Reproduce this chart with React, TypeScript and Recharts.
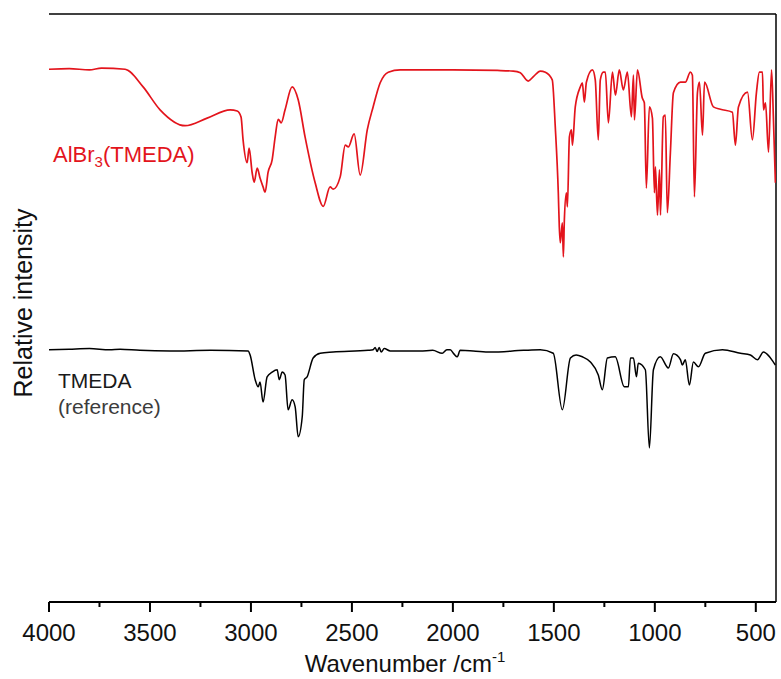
import React from "react";
import { LineChart, Line, XAxis, YAxis, Label, ReferenceLine } from "recharts";

// AlBr3(TMEDA) spectrum (wavenumber / cm-1, relative intensity)
const alWavenumbers = [
  4000, 3900, 3800, 3740, 3623, 3534, 3450, 3326, 3217, 3103, 3068, 3049, 3039, 3019, 3009,
  2994, 2984, 2969, 2955, 2940, 2930, 2915, 2895, 2880, 2865, 2850, 2831, 2796, 2766, 2732,
  2682, 2642, 2608, 2593, 2558, 2533, 2518, 2489, 2459, 2424, 2395, 2360, 2320, 2261, 2000,
  1780, 1701, 1666, 1627, 1600, 1567, 1542, 1508, 1493, 1478, 1473, 1468, 1458, 1453, 1448,
  1438, 1433, 1423, 1413, 1408, 1394, 1369, 1359, 1349, 1339, 1309, 1295, 1280, 1270, 1255,
  1245, 1230, 1210, 1195, 1176, 1156, 1136, 1116, 1106, 1101, 1086, 1062, 1052, 1042, 1027,
  1012, 1002, 997, 987, 977, 972, 958, 948, 938, 923, 908, 873, 849, 824, 814,
  804, 789, 779, 764, 754, 710, 675, 616, 601, 586, 541, 517, 497, 482, 467,
  462, 452, 437, 422, 413, 403,
];
const alIntensity = [
  90.6, 90.7, 90.5, 90.8, 90.6, 87.6, 83.7, 81.0, 82.3, 83.7, 83.5, 82.5, 78.6, 74.7, 77.2,
  73.0, 71.4, 73.8, 72.1, 70.6, 69.7, 73.1, 75.2, 79.1, 82.1, 81.5, 83.7, 87.6, 85.4, 79.1,
  71.3, 67.3, 70.6, 70.2, 72.3, 77.7, 77.4, 79.6, 72.6, 80.3, 84.2, 88.3, 90.1, 90.5, 90.5,
  90.4, 90.3, 90.0, 88.6, 89.4, 90.3, 90.1, 88.8, 80.8, 69.6, 63.8, 61.1, 64.5, 58.7, 65.0,
  69.6, 67.2, 79.1, 80.3, 77.7, 84.2, 87.6, 88.3, 85.0, 88.4, 90.5, 88.8, 78.6, 88.8, 90.1,
  90.1, 81.5, 90.1, 86.2, 90.5, 87.1, 90.1, 82.5, 89.6, 82.0, 90.5, 85.7, 84.9, 70.4, 84.2,
  82.3, 69.6, 74.0, 65.8, 73.5, 65.8, 82.5, 82.8, 66.2, 76.4, 86.6, 88.4, 88.4, 90.1, 89.6,
  68.9, 86.6, 88.4, 79.4, 88.4, 84.2, 83.8, 83.3, 77.7, 84.2, 86.7, 78.6, 86.6, 90.1, 90.1,
  83.7, 84.9, 76.5, 90.5, 82.5, 71.3,
];

// TMEDA reference spectrum
const tmedaWavenumbers = [
  4000, 3900, 3800, 3700, 3648, 3550, 3400, 3200, 3014, 3004, 2979, 2964, 2955, 2940, 2920,
  2895, 2870, 2860, 2845, 2831, 2816, 2796, 2781, 2766, 2746, 2736, 2722, 2692, 2657, 2593,
  2420, 2395, 2385, 2375, 2365, 2355, 2340, 2310, 2162, 2100, 2053, 2030, 2013, 1995, 1978,
  1964, 1900, 1815, 1650, 1567, 1503, 1458, 1418, 1390, 1359, 1319, 1280, 1260, 1235, 1196,
  1151, 1131, 1121, 1106, 1091, 1082, 1047, 1027, 1007, 973, 933, 908, 873, 864, 849,
  829, 809, 784, 750, 665, 576, 527, 492, 462, 437, 413, 403,
];
const tmedaIntensity = [
  42.9, 43.0, 43.1, 42.9, 43.0, 42.8, 42.7, 42.8, 42.7, 42.0, 37.8, 36.6, 37.4, 34.0, 38.3,
  39.1, 39.5, 37.8, 39.1, 38.6, 32.7, 34.4, 33.2, 28.1, 31.5, 37.8, 38.3, 41.5, 42.3, 42.5,
  42.8, 42.9, 43.3, 42.6, 43.3, 42.5, 43.1, 42.7, 42.7, 42.8, 42.3, 42.9, 42.9, 42.2, 41.7,
  42.8, 42.7, 42.5, 42.8, 42.9, 42.3, 32.7, 41.5, 42.0, 41.7, 40.8, 38.6, 36.1, 41.5, 41.7,
  36.6, 36.6, 41.5, 41.5, 38.3, 40.6, 39.5, 26.2, 39.5, 41.7, 39.8, 42.2, 41.2, 40.3, 41.2,
  36.9, 40.8, 40.0, 42.3, 42.9, 42.3, 42.0, 41.2, 42.5, 41.9, 40.8, 40.3,
];

const xTicks = [4000, 3750, 3500, 3250, 3000, 2750, 2500, 2250, 2000, 1750, 1500, 1250, 1000, 750, 500];

const alData = alWavenumbers.map((wn, i) => ({ wn, value: alIntensity[i] }));
const tmedaData = tmedaWavenumbers.map((wn, i) => ({ wn, value: tmedaIntensity[i] }));

const FONT = "'Liberation Sans', Arial, sans-serif";
const RED = "#e3141c";

const XTick = (props: any) => {
  const { x, y, payload } = props;
  const major = payload.value % 500 === 0;
  return (
    <g>
      <line x1={x} x2={x} y1={y} y2={y + (major ? 10 : 5)} stroke="#000" strokeWidth={2} />
      {major && (
        <text x={x} y={y + 39} textAnchor="middle" fontSize={24} fontFamily={FONT} fill="#111">
          {payload.value}
        </text>
      )}
    </g>
  );
};

const App = () => {
  return (
    <div style={{ position: "relative", width: 781, height: 679 }}>
      <style>{"body{margin:0}"}</style>
      <LineChart width={781} height={679} margin={{ top: 14, right: 5, bottom: 0, left: 49 }}>
        <XAxis
          dataKey="wn"
          type="number"
          domain={[400, 4000]}
          reversed
          ticks={xTicks}
          interval={0}
          tickSize={0}
          tickMargin={0}
          tick={<XTick />}
          tickLine={false}
          axisLine={{ stroke: "#000", strokeWidth: 2 }}
          height={77}
          allowDataOverflow
        >
          <Label
            content={() => (
              <text x={405} y={672} textAnchor="middle" fontSize={24} fontFamily={FONT} fill="#111">
                Wavenumber /cm
                <tspan fontSize={15} dy={-10}>-1</tspan>
              </text>
            )}
          />
        </XAxis>
        <YAxis
          type="number"
          domain={[0, 100]}
          width={0}
          tick={false}
          tickLine={false}
          axisLine={{ stroke: "#000", strokeWidth: 2 }}
        />
        {/* frame: top and right edges */}
        <ReferenceLine y={100} stroke="#000" strokeWidth={1.5} ifOverflow="visible" />
        <ReferenceLine x={400} stroke="#000" strokeWidth={1.5} ifOverflow="visible" />
        <Line
          data={alData}
          dataKey="value"
          type="monotone"
          stroke={RED}
          strokeWidth={1.7}
          dot={false}
          isAnimationActive={false}
        />
        <Line
          data={tmedaData}
          dataKey="value"
          type="monotone"
          stroke="#000"
          strokeWidth={1.5}
          dot={false}
          isAnimationActive={false}
        />
      </LineChart>
      <svg
        width={781}
        height={679}
        style={{ position: "absolute", left: 0, top: 0, pointerEvents: "none" }}
      >
        <text
          x={32}
          y={303}
          transform="rotate(-90, 32, 303)"
          textAnchor="middle"
          fontSize={25}
          fontFamily={FONT}
          fill="#111"
        >
          Relative intensity
        </text>
        <text x={53} y={162} fontSize={22} fontFamily={FONT} fill={RED}>
          AlBr<tspan fontSize={15} dy={5}>3</tspan>
          <tspan dy={-5}>(TMEDA)</tspan>
        </text>
        <text x={58} y={388} fontSize={21} fontFamily={FONT} fill="#1a1a1a">
          TMEDA
        </text>
        <text x={58} y={414} fontSize={21} fontFamily={FONT} fill="#3c3c3c">
          (reference)
        </text>
      </svg>
    </div>
  );
};

export default App;
